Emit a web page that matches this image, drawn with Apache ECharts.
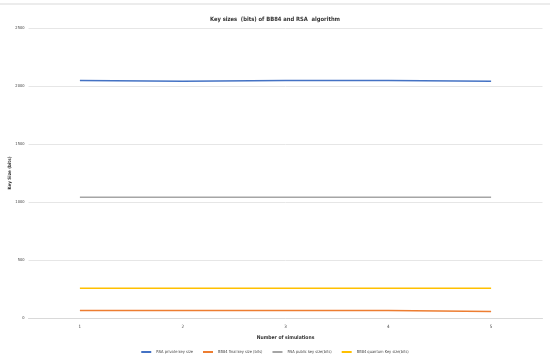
<!DOCTYPE html>
<html>
<head>
<meta charset="utf-8">
<script src="https://cdn.jsdelivr.net/npm/echarts@6/dist/echarts.min.js"></script>
<style>
  html, body { margin: 0; padding: 0; background: #fff; }
  #chart { width: 550px; height: 360px; }
</style>
</head>
<body>
<div id="chart"></div>
<script>
const categories = ["1", "2", "3", "4", "5"];
const rsaPrivate = [2048, 2042, 2047, 2047, 2041];
const bb84Final = [64, 64, 64, 64, 56];
const rsaPublic = [1042, 1042, 1042, 1042, 1042];
const bb84Quantum = [256, 256, 256, 256, 256];
const seriesNames = [
  "RSA private key size",
  "BB84 final key size (bits)",
  "RSA public key size(bits)",
  "BB84 quantum Key size(bits)",
];

const FONT = "'DejaVu Sans Condensed', 'Liberation Sans', sans-serif";

const chart = echarts.init(document.getElementById("chart"));

function lineSeries(name, data, color) {
  return {
    name: name,
    type: "line",
    data: data,
    symbol: "none",
    color: color,
    lineStyle: { width: 1.5, color: color },
  };
}

const option = {
  animation: false,
  textStyle: { fontFamily: FONT },
  title: {
    text: "Key sizes  (bits) of BB84 and RSA  algorithm",
    left: "center",
    top: 11,
    textStyle: { fontSize: 5.8, fontWeight: "bold", color: "#333", fontFamily: FONT },
  },
  graphic: [
    {
      type: "line",
      shape: { x1: 0, y1: 4, x2: 550, y2: 4 },
      style: { stroke: "#d9d9d9", lineWidth: 1 },
    },
  ],
  grid: { left: 28.5, right: 7.5, top: 28, bottom: 42, outerBoundsMode: "none" },
  legend: {
    bottom: 1,
    left: "center",
    itemWidth: 10,
    itemHeight: 2,
    itemGap: 10,
    icon: "rect",
    textStyle: { fontSize: 4, color: "#444", fontFamily: FONT },
    data: seriesNames,
  },
  xAxis: {
    type: "category",
    data: categories,
    boundaryGap: true,
    name: "Number of simulations",
    nameLocation: "middle",
    nameGap: 17,
    nameMoveOverlap: false,
    nameTextStyle: { fontSize: 5, fontWeight: "bold", color: "#333", fontFamily: FONT },
    axisLine: { show: true, lineStyle: { color: "#d9d9d9" } },
    axisTick: { show: false },
    axisLabel: { fontSize: 4.5, color: "#444", margin: 6 },
  },
  yAxis: {
    type: "value",
    min: 0,
    max: 2500,
    interval: 500,
    name: "Key Size (bits)",
    nameLocation: "middle",
    nameGap: 16,
    nameMoveOverlap: false,
    nameTextStyle: { fontSize: 4.5, fontWeight: "bold", color: "#333", fontFamily: FONT },
    axisLine: { show: false },
    axisTick: { show: false },
    axisLabel: { fontSize: 4, color: "#444", margin: 4, formatter: (v) => String(v) },
    splitLine: { lineStyle: { color: "#e6e6e6", width: 1 } },
  },
  series: [
    lineSeries(seriesNames[0], rsaPrivate, "#4472C4"),
    lineSeries(seriesNames[1], bb84Final, "#ED7D31"),
    lineSeries(seriesNames[2], rsaPublic, "#A5A5A5"),
    lineSeries(seriesNames[3], bb84Quantum, "#FFC000"),
  ],
};

chart.setOption(option);
</script>
</body>
</html>
